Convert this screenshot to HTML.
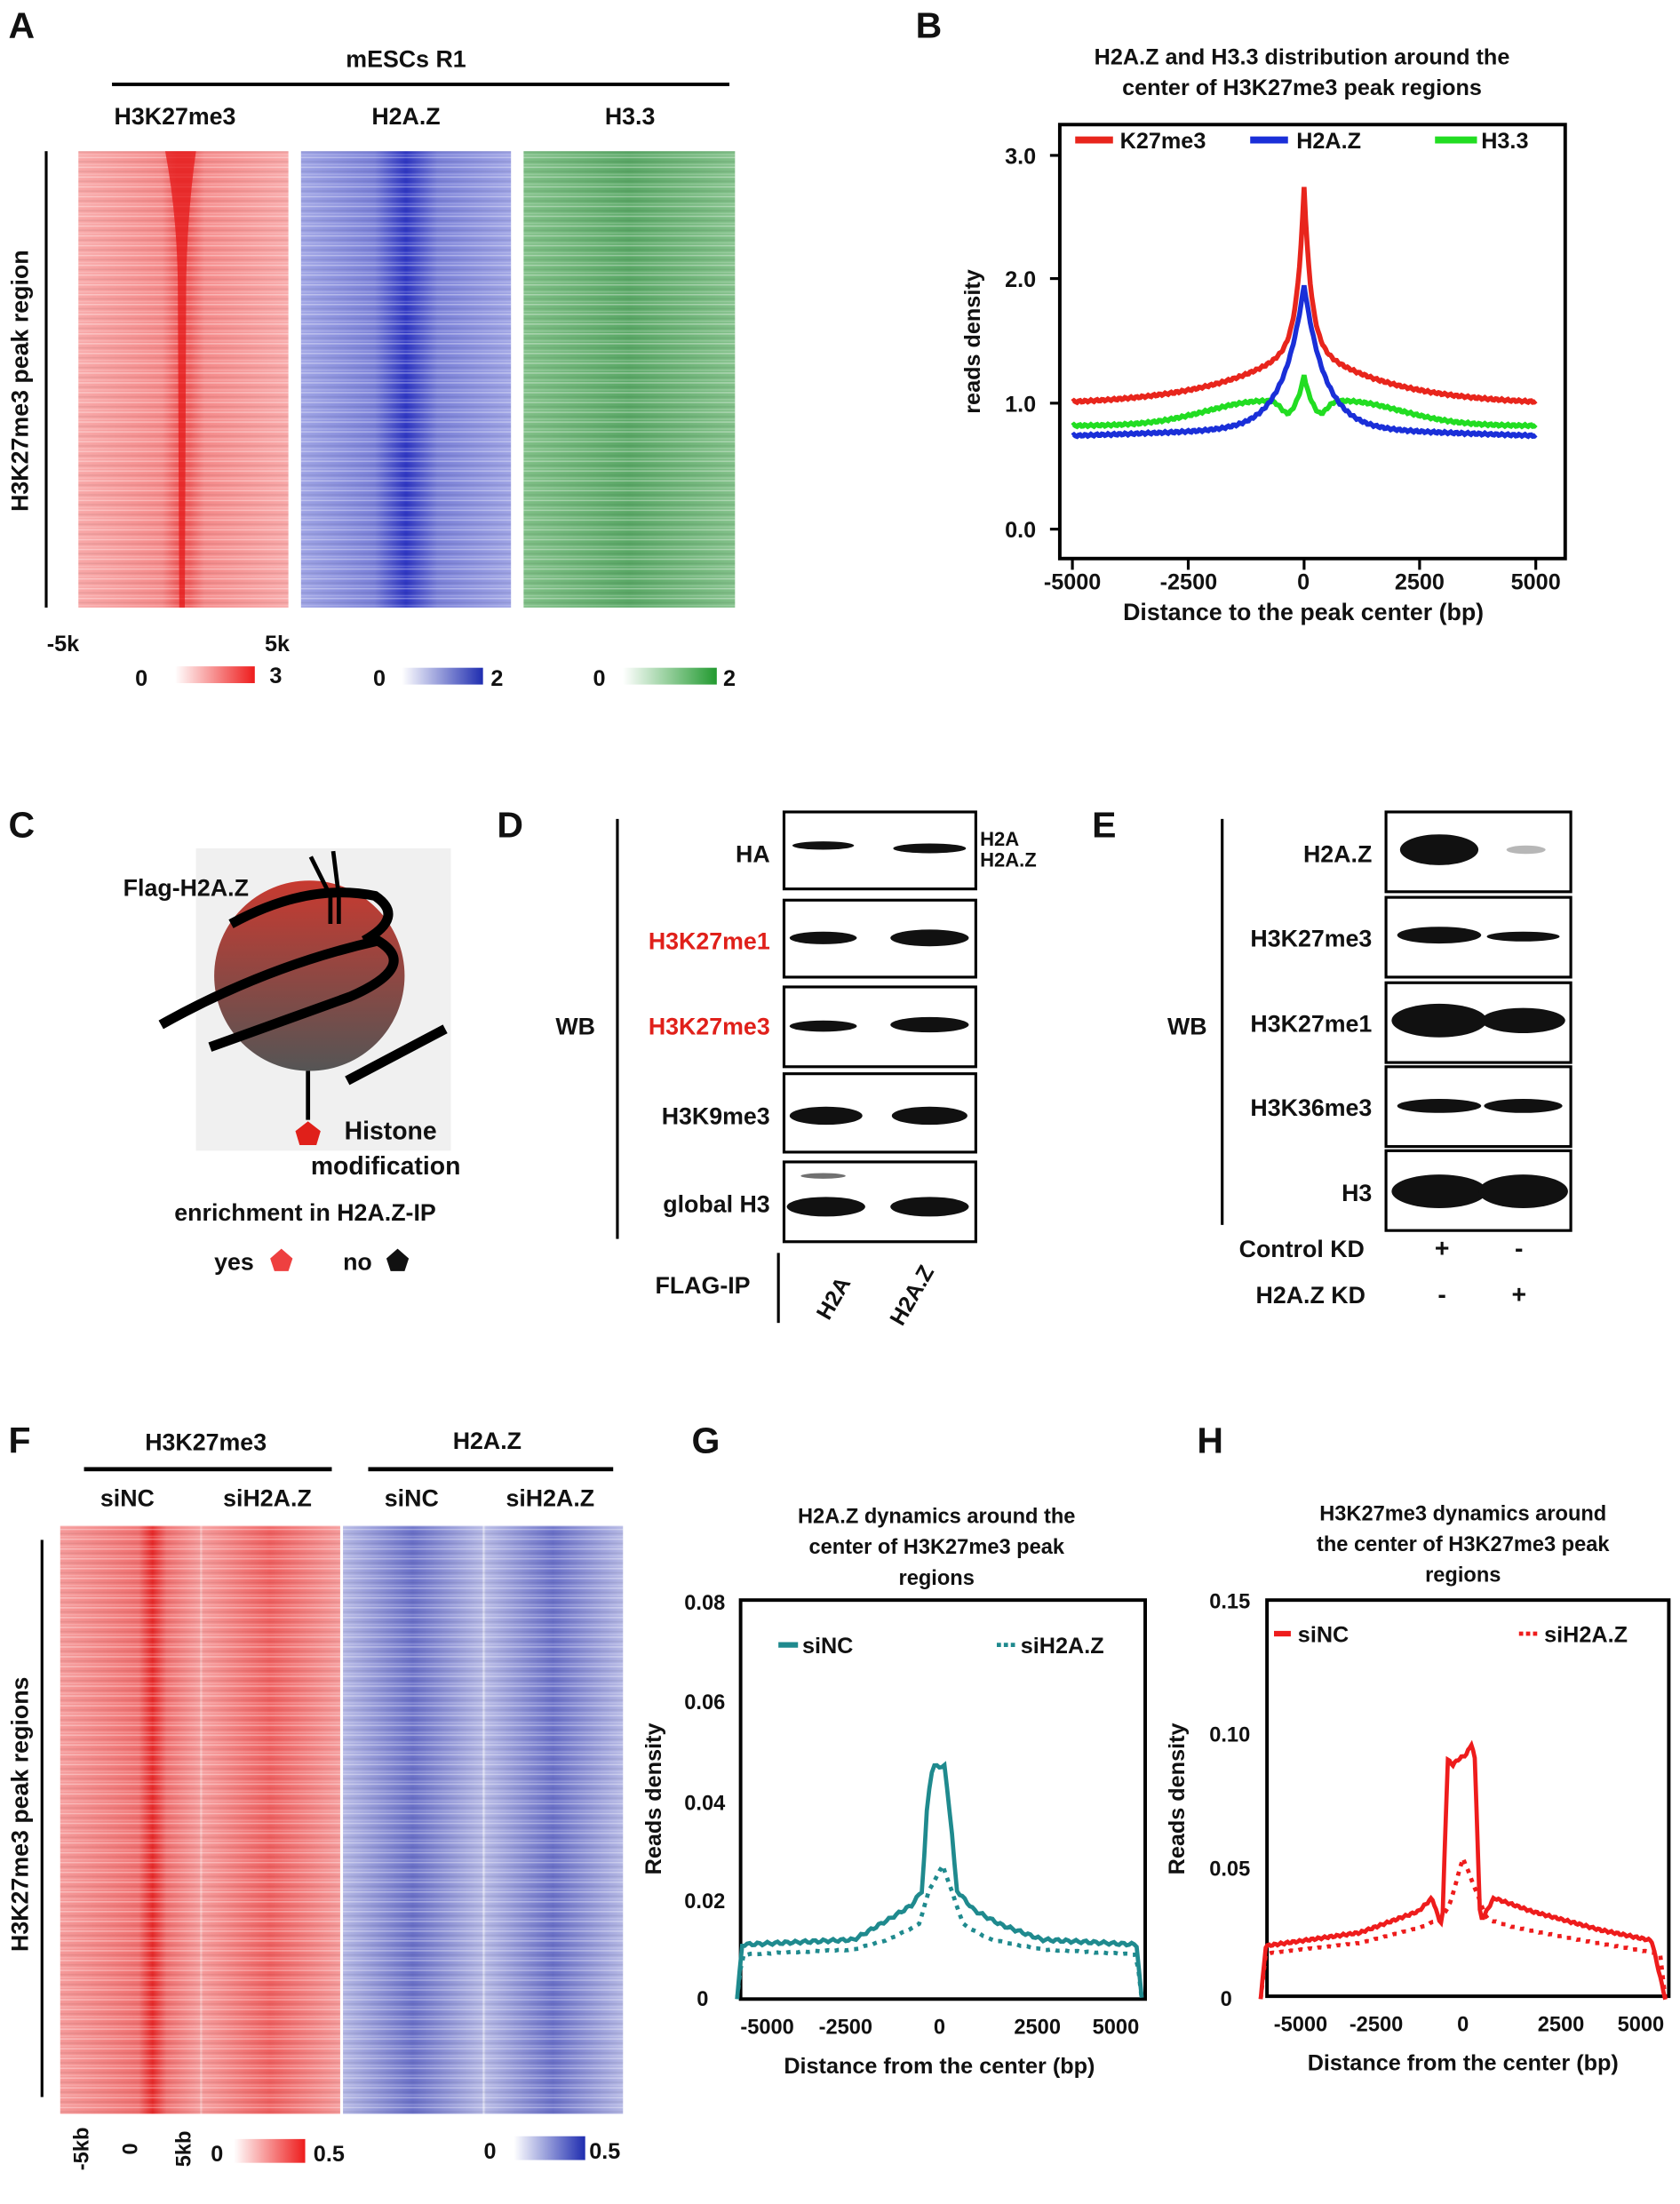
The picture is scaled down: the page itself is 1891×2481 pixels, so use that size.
<!DOCTYPE html>
<html><head><meta charset="utf-8"><style>
html,body{margin:0;padding:0;background:#fff}
svg{display:block}
text{font-family:"Liberation Sans",sans-serif;font-weight:bold;fill:#111}
</style></head><body>
<svg id="s" width="1891" height="2481" viewBox="0 0 1200 1574.4" xmlns="http://www.w3.org/2000/svg">
<defs>
<linearGradient id="gr" x1="0" x2="1"><stop offset="0" stop-color="#f8a8a8"/><stop offset="0.4" stop-color="#f58a8a"/><stop offset="0.47" stop-color="#f06060"/><stop offset="0.53" stop-color="#f06060"/><stop offset="0.6" stop-color="#f58a8a"/><stop offset="1" stop-color="#f8a8a8"/></linearGradient>
<linearGradient id="gb" x1="0" x2="1"><stop offset="0" stop-color="#9ea3e4"/><stop offset="0.35" stop-color="#7a80d8"/><stop offset="0.5" stop-color="#2f37c4"/><stop offset="0.65" stop-color="#7a80d8"/><stop offset="1" stop-color="#9ea3e4"/></linearGradient>
<linearGradient id="gg" x1="0" x2="1"><stop offset="0" stop-color="#7fbf86"/><stop offset="0.5" stop-color="#5aa866"/><stop offset="1" stop-color="#82c089"/></linearGradient>
<linearGradient id="fr" x1="0" x2="1"><stop offset="0" stop-color="#f59a9a"/><stop offset="0.28" stop-color="#f07070"/><stop offset="0.33" stop-color="#e82a2a"/><stop offset="0.38" stop-color="#f07070"/><stop offset="0.5" stop-color="#f59a9a"/><stop offset="0.5" stop-color="#f8d0d0"/><stop offset="0.51" stop-color="#f59a9a"/><stop offset="0.75" stop-color="#ef6060"/><stop offset="1" stop-color="#f59a9a"/></linearGradient>
<linearGradient id="fb" x1="0" x2="1"><stop offset="0" stop-color="#b4b7e4"/><stop offset="0.25" stop-color="#6a70c8"/><stop offset="0.5" stop-color="#b4b7e4"/><stop offset="0.5" stop-color="#e6e7f5"/><stop offset="0.51" stop-color="#b4b7e4"/><stop offset="0.75" stop-color="#6a70c8"/><stop offset="1" stop-color="#b4b7e4"/></linearGradient>
<linearGradient id="cr" x1="0" x2="1"><stop offset="0" stop-color="#fff"/><stop offset="1" stop-color="#ee1c1c"/></linearGradient>
<linearGradient id="cb" x1="0" x2="1"><stop offset="0" stop-color="#fff"/><stop offset="1" stop-color="#1f2db0"/></linearGradient>
<linearGradient id="cg" x1="0" x2="1"><stop offset="0" stop-color="#fff"/><stop offset="1" stop-color="#229a30"/></linearGradient>
<linearGradient id="sph" x1="0" y1="0" x2="0" y2="1"><stop offset="0" stop-color="#c83a30"/><stop offset="1" stop-color="#555"/></linearGradient>
<pattern id="st" width="10" height="7" patternUnits="userSpaceOnUse"><rect width="10" height="1" fill="#fff" opacity="0.35"/><rect y="3" width="10" height="1" fill="#000" opacity="0.06"/><rect y="5" width="10" height="1" fill="#fff" opacity="0.2"/></pattern>
</defs>

<!-- A -->
<text x="6" y="27" font-size="26">A</text>
<text x="290" y="48" font-size="17" text-anchor="middle">mESCs R1</text>
<rect x="80" y="59" width="441" height="2.5" fill="#000"/>
<text x="125" y="89" font-size="17" text-anchor="middle">H3K27me3</text>
<text x="290" y="89" font-size="17" text-anchor="middle">H2A.Z</text>
<text x="450" y="89" font-size="17" text-anchor="middle">H3.3</text>
<rect x="32" y="108" width="2" height="326" fill="#000"/>
<text transform="translate(20,272) rotate(-90)" font-size="17" text-anchor="middle">H3K27me3 peak region</text>
<rect x="56" y="108" width="150" height="326" fill="url(#gr)"/><rect x="56" y="108" width="150" height="326" fill="url(#st)"/>
<path d="M118 108 L140 108 Q134 150 133 200 L132 434 L128 434 L127 200 Q126 150 118 108Z" fill="#e51a1a" opacity="0.75"/>
<rect x="215" y="108" width="150" height="326" fill="url(#gb)"/><rect x="215" y="108" width="150" height="326" fill="url(#st)"/>
<rect x="374" y="108" width="151" height="326" fill="url(#gg)"/><rect x="374" y="108" width="151" height="326" fill="url(#st)"/>
<text x="45" y="465" font-size="16" text-anchor="middle">-5k</text>
<text x="198" y="465" font-size="16" text-anchor="middle">5k</text>
<text x="101" y="490" font-size="16" text-anchor="middle">0</text><rect x="125" y="476" width="57" height="12" fill="url(#cr)"/><text x="197" y="488" font-size="16" text-anchor="middle">3</text>
<text x="271" y="490" font-size="16" text-anchor="middle">0</text><rect x="287" y="477" width="58" height="12" fill="url(#cb)"/><text x="355" y="490" font-size="16" text-anchor="middle">2</text>
<text x="428" y="490" font-size="16" text-anchor="middle">0</text><rect x="445" y="477" width="67" height="12" fill="url(#cg)"/><text x="521" y="490" font-size="16" text-anchor="middle">2</text>

<!-- B -->
<text x="654" y="27" font-size="26">B</text>
<text x="930" y="46" font-size="16" text-anchor="middle">H2A.Z and H3.3 distribution around the</text>
<text x="930" y="68" font-size="16" text-anchor="middle">center of H3K27me3 peak regions</text>
<rect x="757" y="89" width="361" height="310" fill="none" stroke="#000" stroke-width="2.5"/>
<g font-size="16" text-anchor="end">
<text x="740" y="117">3.0</text><text x="740" y="205">2.0</text><text x="740" y="294">1.0</text><text x="740" y="384">0.0</text></g>
<g stroke="#000" stroke-width="2"><line x1="750" x2="757" y1="111" y2="111"/><line x1="750" x2="757" y1="199" y2="199"/><line x1="750" x2="757" y1="288" y2="288"/><line x1="750" x2="757" y1="378" y2="378"/>
<line x1="766" x2="766" y1="399" y2="407"/><line x1="848.75" x2="848.75" y1="399" y2="407"/><line x1="931.5" x2="931.5" y1="399" y2="407"/><line x1="1014" x2="1014" y1="399" y2="407"/><line x1="1097" x2="1097" y1="399" y2="407"/></g>
<g font-size="16" text-anchor="middle"><text x="766" y="421">-5000</text><text x="849" y="421">-2500</text><text x="931" y="421">0</text><text x="1014" y="421">2500</text><text x="1097" y="421">5000</text></g>
<text x="931" y="443" font-size="17" text-anchor="middle">Distance to the peak center (bp)</text>
<text transform="translate(700,244) rotate(-90)" font-size="16" text-anchor="middle">reads density</text>
<line x1="768" x2="795" y1="100" y2="100" stroke="#e8251c" stroke-width="5"/><text x="800" y="106" font-size="16">K27me3</text>
<line x1="893" x2="920" y1="100" y2="100" stroke="#1a2fd8" stroke-width="5"/><text x="926" y="106" font-size="16">H2A.Z</text>
<line x1="1025" x2="1055" y1="100" y2="100" stroke="#22dd22" stroke-width="5"/><text x="1058" y="106" font-size="16">H3.3</text>
<path id="bg" fill="none" stroke="#22dd22" stroke-width="3.5"/>
<path id="bb" fill="none" stroke="#1a2fd8" stroke-width="3.5"/>
<path id="br" fill="none" stroke="#e8251c" stroke-width="3.5"/>

<!-- C -->
<text x="6" y="598" font-size="26">C</text>
<rect x="140" y="606" width="182" height="216" fill="#f0f0f0"/>
<circle cx="221" cy="697" r="68" fill="url(#sph)"/>
<path d="M115 732 Q190 690 270 672 Q300 690 250 712 L150 748" fill="none" stroke="#000" stroke-width="7"/>
<path d="M165 660 Q220 630 268 640 Q290 655 260 672" fill="none" stroke="#000" stroke-width="7"/>
<path d="M248 772 L318 735" stroke="#000" stroke-width="7"/>
<path d="M236 660 L236 640 L222 612 M242 660 L242 640 L238 608" fill="none" stroke="#000" stroke-width="3"/>
<line x1="220" y1="765" x2="220" y2="800" stroke="#000" stroke-width="3"/>
<path d="M211 808 L220 801 L229 808 L226 818 L214 818Z" fill="#e0201a"/>
<text x="88" y="640" font-size="17">Flag-H2A.Z</text>
<text x="246" y="814" font-size="18">Histone</text>
<text x="222" y="839" font-size="18">modification</text>
<text x="218" y="872" font-size="17" text-anchor="middle">enrichment in H2A.Z-IP</text>
<text x="153" y="907" font-size="17">yes</text><path d="M193 899 L201 892 L209 899 L206 908 L196 908Z" fill="#ee4040"/>
<text x="245" y="907" font-size="17">no</text><path d="M276 899 L284 892 L292 899 L289 908 L279 908Z" fill="#111"/>

<!-- D -->
<text x="355" y="598" font-size="26">D</text>
<rect x="440" y="585" width="2" height="300" fill="#000"/>
<text x="411" y="739" font-size="17" text-anchor="middle">WB</text>
<g fill="#fff" stroke="#000" stroke-width="2">
<rect x="560" y="580" width="137" height="55"/><rect x="560" y="643" width="137" height="55"/><rect x="560" y="705" width="137" height="57"/><rect x="560" y="767" width="137" height="56"/><rect x="560" y="830" width="137" height="57"/></g>
<g fill="#111"><ellipse cx="588" cy="604" rx="22" ry="3"/><ellipse cx="664" cy="606" rx="26" ry="3.5"/>
<ellipse cx="588" cy="670" rx="24" ry="4.5"/><ellipse cx="664" cy="670" rx="28" ry="6"/>
<ellipse cx="588" cy="733" rx="24" ry="4"/><ellipse cx="664" cy="732" rx="28" ry="5.5"/>
<ellipse cx="590" cy="797" rx="26" ry="6.5"/><ellipse cx="664" cy="797" rx="27" ry="6.5"/>
<ellipse cx="590" cy="862" rx="28" ry="7"/><ellipse cx="664" cy="862" rx="28" ry="7"/>
<ellipse cx="588" cy="840" rx="16" ry="2" opacity="0.6"/></g>
<g font-size="17" text-anchor="end">
<text x="550" y="616">HA</text><text x="550" y="678" style="fill:#e0201a">H3K27me1</text><text x="550" y="739" style="fill:#e0201a">H3K27me3</text><text x="550" y="803">H3K9me3</text><text x="550" y="866">global H3</text></g>
<text x="700" y="604" font-size="14">H2A</text><text x="700" y="619" font-size="14">H2A.Z</text>
<text x="468" y="924" font-size="17">FLAG-IP</text>
<rect x="555" y="895" width="2" height="50" fill="#000"/>
<text transform="translate(600,930) rotate(-60)" font-size="16" text-anchor="middle">H2A</text>
<text transform="translate(656,928) rotate(-60)" font-size="16" text-anchor="middle">H2A.Z</text>

<!-- E -->
<text x="780" y="598" font-size="26">E</text>
<rect x="872" y="585" width="2" height="290" fill="#000"/>
<text x="848" y="739" font-size="17" text-anchor="middle">WB</text>
<g fill="#fff" stroke="#000" stroke-width="2">
<rect x="990" y="580" width="132" height="57"/><rect x="990" y="641" width="132" height="57"/><rect x="990" y="702" width="132" height="57"/><rect x="990" y="762" width="132" height="57"/><rect x="990" y="822" width="132" height="57"/></g>
<g fill="#111"><ellipse cx="1028" cy="607" rx="28" ry="11"/><ellipse cx="1090" cy="607" rx="14" ry="3" opacity="0.3"/>
<ellipse cx="1028" cy="668" rx="30" ry="6"/><ellipse cx="1088" cy="669" rx="26" ry="3.5"/>
<ellipse cx="1028" cy="729" rx="34" ry="12"/><ellipse cx="1088" cy="729" rx="30" ry="9"/>
<ellipse cx="1028" cy="790" rx="30" ry="5"/><ellipse cx="1088" cy="790" rx="28" ry="5"/>
<ellipse cx="1028" cy="851" rx="34" ry="12"/><ellipse cx="1088" cy="851" rx="32" ry="12"/></g>
<g font-size="17" text-anchor="end">
<text x="980" y="616">H2A.Z</text><text x="980" y="676">H3K27me3</text><text x="980" y="737">H3K27me1</text><text x="980" y="797">H3K36me3</text><text x="980" y="858">H3</text></g>
<text x="885" y="898" font-size="17">Control KD</text><text x="1030" y="898" font-size="18" text-anchor="middle">+</text><text x="1085" y="898" font-size="18" text-anchor="middle">-</text>
<text x="897" y="931" font-size="17">H2A.Z KD</text><text x="1030" y="931" font-size="18" text-anchor="middle">-</text><text x="1085" y="931" font-size="18" text-anchor="middle">+</text>

<!-- F -->
<text x="6" y="1038" font-size="26">F</text>
<text x="147" y="1036" font-size="17" text-anchor="middle">H3K27me3</text>
<text x="348" y="1035" font-size="17" text-anchor="middle">H2A.Z</text>
<rect x="60" y="1048" width="177" height="3" fill="#000"/><rect x="263" y="1048" width="175" height="3" fill="#000"/>
<g font-size="17" text-anchor="middle"><text x="91" y="1076">siNC</text><text x="191" y="1076">siH2A.Z</text><text x="294" y="1076">siNC</text><text x="393" y="1076">siH2A.Z</text></g>
<rect x="29" y="1100" width="2" height="398" fill="#000"/>
<text transform="translate(20,1296) rotate(-90)" font-size="17" text-anchor="middle">H3K27me3 peak regions</text>
<rect x="43" y="1090" width="200" height="420" fill="url(#fr)"/><rect x="43" y="1090" width="200" height="420" fill="url(#st)"/>
<rect x="245" y="1090" width="200" height="420" fill="url(#fb)"/><rect x="245" y="1090" width="200" height="420" fill="url(#st)"/>
<text transform="translate(63,1535) rotate(-90)" font-size="15" text-anchor="middle">-5kb</text>
<text transform="translate(98,1535) rotate(-90)" font-size="15" text-anchor="middle">0</text>
<text transform="translate(136,1535) rotate(-90)" font-size="15" text-anchor="middle">5kb</text>
<text x="155" y="1544" font-size="16" text-anchor="middle">0</text><rect x="167" y="1528" width="51" height="17" fill="url(#cr)"/><text x="235" y="1544" font-size="16" text-anchor="middle">0.5</text>
<text x="350" y="1542" font-size="16" text-anchor="middle">0</text><rect x="367" y="1526" width="51" height="17" fill="url(#cb)"/><text x="432" y="1542" font-size="16" text-anchor="middle">0.5</text>

<!-- G -->
<text x="494" y="1038" font-size="26">G</text>
<g font-size="15" text-anchor="middle"><text x="669" y="1088">H2A.Z dynamics around the</text><text x="669" y="1110">center of H3K27me3 peak</text><text x="669" y="1132">regions</text></g>
<rect x="529" y="1143" width="289" height="285" fill="none" stroke="#000" stroke-width="2.5"/>
<g font-size="15" text-anchor="end"><text x="518" y="1150">0.08</text><text x="518" y="1221">0.06</text><text x="518" y="1293">0.04</text><text x="518" y="1363">0.02</text><text x="506" y="1433">0</text></g>
<g font-size="15" text-anchor="middle"><text x="548" y="1453">-5000</text><text x="604" y="1453">-2500</text><text x="671" y="1453">0</text><text x="741" y="1453">2500</text><text x="797" y="1453">5000</text></g>
<text x="671" y="1481" font-size="16" text-anchor="middle">Distance from the center (bp)</text>
<text transform="translate(472,1285) rotate(-90)" font-size="16" text-anchor="middle">Reads density</text>
<line x1="556" x2="570" y1="1175" y2="1175" stroke="#1f8a8e" stroke-width="4"/><text x="573" y="1181" font-size="16">siNC</text>
<line x1="712" x2="727" y1="1175" y2="1175" stroke="#1f8a8e" stroke-width="3" stroke-dasharray="3,2"/><text x="729" y="1181" font-size="16">siH2A.Z</text>
<path id="gd" fill="none" stroke="#1f8a8e" stroke-width="3" stroke-dasharray="3,4"/>
<path id="gs" fill="none" stroke="#1f8a8e" stroke-width="3"/>

<!-- H -->
<text x="855" y="1038" font-size="26">H</text>
<g font-size="15" text-anchor="middle"><text x="1045" y="1086">H3K27me3 dynamics around</text><text x="1045" y="1108">the center of H3K27me3 peak</text><text x="1045" y="1130">regions</text></g>
<rect x="905" y="1143" width="287" height="283" fill="none" stroke="#000" stroke-width="2.5"/>
<g font-size="15" text-anchor="end"><text x="893" y="1149">0.15</text><text x="893" y="1244">0.10</text><text x="893" y="1340">0.05</text><text x="880" y="1433">0</text></g>
<g font-size="15" text-anchor="middle"><text x="929" y="1451">-5000</text><text x="983" y="1451">-2500</text><text x="1045" y="1451">0</text><text x="1115" y="1451">2500</text><text x="1172" y="1451">5000</text></g>
<text x="1045" y="1479" font-size="16" text-anchor="middle">Distance from the center (bp)</text>
<text transform="translate(846,1285) rotate(-90)" font-size="16" text-anchor="middle">Reads density</text>
<line x1="910" x2="922" y1="1167" y2="1167" stroke="#ee1c1c" stroke-width="4"/><text x="927" y="1173" font-size="16">siNC</text>
<line x1="1085" x2="1100" y1="1167" y2="1167" stroke="#ee1c1c" stroke-width="3" stroke-dasharray="3,2"/><text x="1103" y="1173" font-size="16">siH2A.Z</text>
<path id="hd" fill="none" stroke="#ee1c1c" stroke-width="3" stroke-dasharray="3,4"/>
<path id="hs" fill="none" stroke="#ee1c1c" stroke-width="3"/>
</svg>
<script>
function mk(id,xf,yf,f,a,b,amp,n){n=n||150;var d="";for(var i=0;i<=n;i++){var t=a+(b-a)*i/n;var v=f(t)+Math.sin(i*1.7)*amp;d+=(i?"L":"M")+xf(t).toFixed(1)+" "+yf(v).toFixed(1);}document.getElementById(id).setAttribute("d",d);}
var E=Math.exp,A=Math.abs;
function lerp(pts,t){for(var i=0;i<pts.length-1;i++){if(t<=pts[i+1][0]){var p=pts[i],q=pts[i+1];return p[1]+(q[1]-p[1])*(t-p[0])/(q[0]-p[0]);}}return pts[pts.length-1][1];}
var bx=function(t){return 931.5+t*0.0331},by=function(v){return 378-89*v};
mk("br",bx,by,function(t){var u=A(t);return 1.0+0.5*E(-u/2200)*(1-u/9000)+1.25*E(-u/150)},-5000,5000,0.008,300);
mk("bb",bx,by,function(t){var u=A(t);return 0.75+0.06*(1-u/5000)+1.15*E(-u/450)},-5000,5000,0.008,300);
mk("bg",bx,by,function(t){var u=A(t);return 0.83+0.2*E(-Math.pow((u-800)/1800,2))+0.25*E(-u/120)-0.1*E(-Math.pow((u-350)/200,2))},-5000,5000,0.008,300);
var gx=function(t){return 671+t*0.0245},gy=function(v){return 1428-3537*v};
mk("gs",gx,gy,function(t){return lerp([[-5900,0],[-5750,0.011],[-2500,0.012],[-1500,0.016],[-800,0.019],[-500,0.022],[-350,0.04],[-200,0.047],[150,0.047],[350,0.035],[500,0.022],[1000,0.018],[1800,0.015],[3000,0.012],[5750,0.011],[5900,0]],t)},-5900,5900,0.0003,160);
mk("gd",gx,gy,function(t){return lerp([[-5900,0],[-5750,0.009],[-2500,0.01],[-1500,0.012],[-600,0.015],[-300,0.022],[100,0.027],[350,0.022],[700,0.015],[1500,0.012],[3000,0.01],[5750,0.009],[5900,0]],t)},-5900,5900,0.0001,120);
var hx=function(t){return 1045+t*0.0245},hy=function(v){return 1428-1900*v};
mk("hs",hx,hy,function(t){return lerp([[-5900,0],[-5750,0.02],[-3000,0.025],[-1300,0.033],[-900,0.038],[-700,0.03],[-600,0.028],[-450,0.09],[-300,0.088],[-150,0.09],[100,0.092],[250,0.096],[350,0.09],[500,0.03],[600,0.031],[900,0.038],[2000,0.033],[4000,0.026],[5500,0.022],[5900,0]],t)},-5900,5900,0.0004,240);
mk("hd",hx,hy,function(t){return lerp([[-5900,0],[-5750,0.017],[-3000,0.021],[-1200,0.027],[-700,0.03],[-400,0.035],[0,0.053],[400,0.04],[700,0.03],[1500,0.027],[3500,0.022],[5750,0.017],[5900,0]],t)},-5900,5900,0.0002,160);
</script>
</body></html>
